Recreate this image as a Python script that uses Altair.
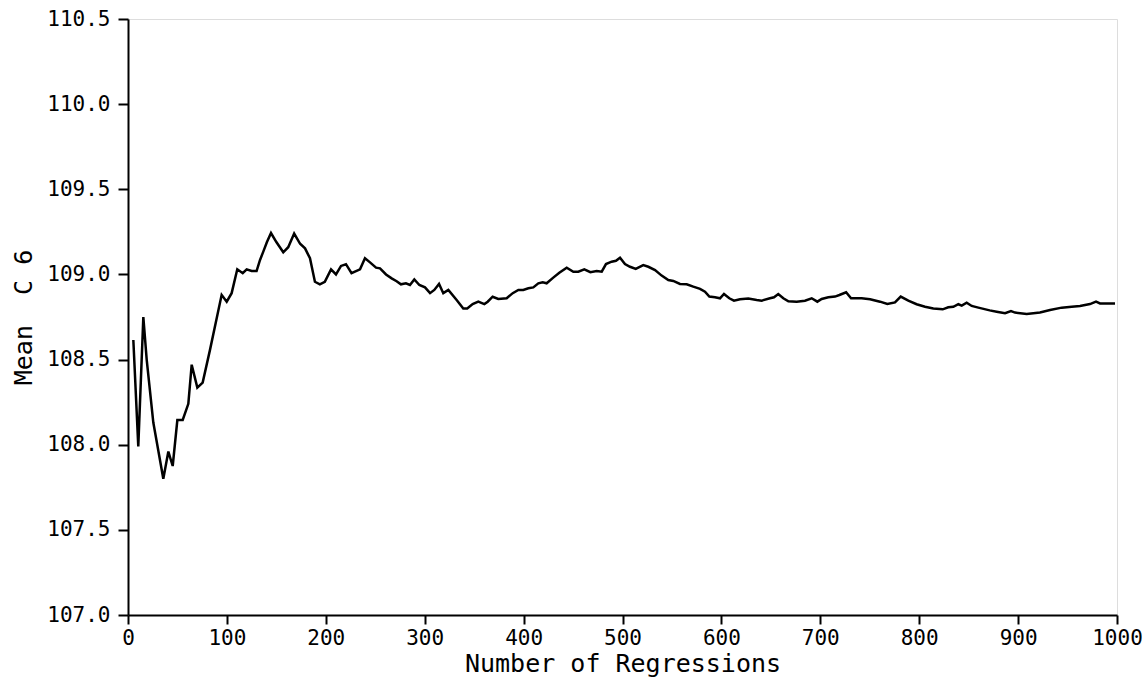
import altair as alt
import pandas as pd

regressions = [5.4, 10.4, 15.5, 18.9, 25.6, 35.7, 40.8, 45.2, 49.9, 55.3, 61.0, 64.4, 70.1, 75.5,
               82.9, 94.7, 99.8, 104.8, 110.5, 116.0, 120.0, 125.0, 130.0, 133.5, 136.8, 140.5,
               144.6, 150.0, 157.0, 162.0, 168.0, 174.0, 179.0, 184.0, 189.0, 194.0, 199.0,
               205.3, 210.3, 215.4, 220.4, 226.0, 234.6, 239.6, 244.7, 250.8, 254.8, 260.9,
               266.6, 271.6, 276.0, 281.0, 285.1, 289.5, 294.6, 300.3, 305.4, 309.7, 314.5,
               318.8, 323.9, 332.3, 339.0, 343.0, 348.5, 354.2, 360.3, 363.7, 368.7, 374.4,
               382.9, 389.0, 394.7, 399.7, 404.8, 409.8, 414.9, 419.3, 423.3, 430.0, 436.1,
               443.6, 450.3, 455.3, 461.4, 467.5, 473.9, 479.0, 483.3, 489.0, 493.4, 497.5,
               502.5, 507.6, 513.4, 521.0, 526.1, 532.9, 539.6, 546.3, 551.4, 558.1, 564.9,
               571.6, 578.4, 583.4, 587.8, 593.5, 598.6, 602.6, 608.0, 612.7, 618.8, 627.2,
               635.7, 640.7, 649.1, 653.2, 657.5, 662.6, 667.7, 676.1, 684.5, 691.3, 697.0,
               701.4, 708.1, 714.9, 719.3, 726.1, 731.1, 738.5, 741.8, 750.3, 760.4, 767.8,
               775.5, 781.3, 789.0, 797.4, 805.9, 814.3, 823.8, 829.4, 834.5, 839.6, 843.0,
               848.0, 853.1, 859.8, 871.3, 878.3, 886.8, 892.8, 896.9, 908.7, 922.1, 932.3,
               944.1, 954.2, 962.6, 972.7, 978.8, 982.8, 998.0]
mean_c6 = [108.615, 107.99, 108.75, 108.50, 108.13, 107.80, 107.96, 107.875, 108.145, 108.145,
           108.24, 108.47, 108.335, 108.365, 108.557, 108.88, 108.84, 108.89, 109.03, 109.007,
           109.03, 109.02, 109.02, 109.085, 109.134, 109.19, 109.243, 109.19, 109.13, 109.16,
           109.24, 109.18, 109.153, 109.095, 108.957, 108.942, 108.957, 109.03, 109.0, 109.05,
           109.06, 109.007, 109.03, 109.095, 109.071, 109.04, 109.036, 109.0, 108.977, 108.96,
           108.942, 108.948, 108.938, 108.971, 108.938, 108.924, 108.89, 108.909, 108.944,
           108.89, 108.909, 108.85, 108.80, 108.80, 108.826, 108.84, 108.826, 108.84, 108.869,
           108.856, 108.86, 108.89, 108.909, 108.909, 108.919, 108.924, 108.948, 108.954,
           108.948, 108.981, 109.01, 109.04, 109.016, 109.016, 109.03, 109.013, 109.02, 109.016,
           109.061, 109.075, 109.08, 109.098, 109.061, 109.045, 109.032, 109.055, 109.045,
           109.026, 108.993, 108.967, 108.962, 108.944, 108.942, 108.928, 108.915, 108.899,
           108.87, 108.866, 108.86, 108.885, 108.86, 108.846, 108.854, 108.858, 108.85,
           108.846, 108.86, 108.866, 108.885, 108.86, 108.842, 108.84, 108.846, 108.86, 108.84,
           108.856, 108.866, 108.87, 108.879, 108.895, 108.86, 108.86, 108.86, 108.854, 108.84,
           108.826, 108.836, 108.87, 108.846, 108.825, 108.81, 108.80, 108.795, 108.807, 108.81,
           108.825, 108.817, 108.834, 108.815, 108.805, 108.789, 108.781, 108.772, 108.785,
           108.776, 108.768, 108.776, 108.791, 108.805, 108.81, 108.815, 108.826, 108.84,
           108.83, 108.83]

x_ticks = [0, 100, 200, 300, 400, 500, 600, 700, 800, 900, 1000]
y_ticks = [107.0, 107.5, 108.0, 108.5, 109.0, 109.5, 110.0, 110.5]

df = pd.DataFrame({"n": regressions, "m": mean_c6})

FONT = "DejaVu Sans Mono"

chart = alt.Chart(df).mark_line(color="black", strokeWidth=2.5).encode(
    x=alt.X("n:Q", scale=alt.Scale(domain=[0, 1000], nice=False, zero=False),
            axis=alt.Axis(values=x_ticks, title="Number of Regressions", format="d",
                          grid=False, tickSize=9, tickWidth=2, domainWidth=2,
                          domainColor="black", tickColor="black", labelColor="black",
                          titleColor="black", labelFont=FONT, titleFont=FONT,
                          labelFontSize=21, titleFontSize=25, titleFontWeight="normal",
                          labelPadding=3, titlePadding=3, labelFlush=False)),
    y=alt.Y("m:Q", scale=alt.Scale(domain=[107.0, 110.5], nice=False, zero=False),
            axis=alt.Axis(values=y_ticks, title="Mean\u00a0\u00a0C\u00a06", format=".1f",
                          grid=False, tickSize=10, tickWidth=2, domainWidth=2,
                          domainColor="black", tickColor="black", labelColor="black",
                          titleColor="black", labelFont=FONT, titleFont=FONT,
                          labelFontSize=21, titleFontSize=25, titleFontWeight="normal",
                          labelPadding=8, titlePadding=10)),
).properties(
    width=989, height=596,
    autosize=alt.AutoSizeParams(type="none"),
    padding={"left": 128, "top": 19, "right": 30, "bottom": 68},
).configure_view(
    stroke="black", strokeWidth=2
).configure(background="white")

chart.save("out.html", embed_options={"renderer": "svg", "actions": False})
